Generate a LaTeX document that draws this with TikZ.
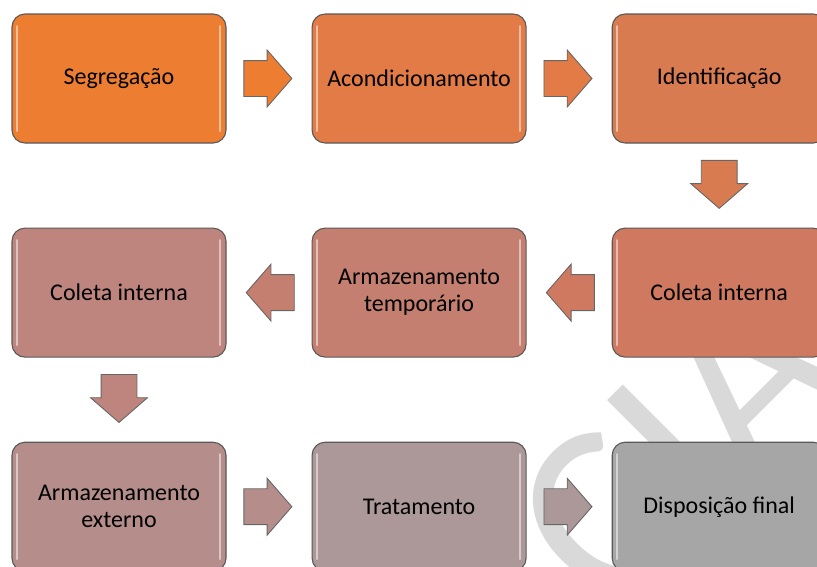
\documentclass[tikz,border=0pt]{standalone}
\usepackage{fontspec}
\setmainfont{Carlito}
\usetikzlibrary{positioning, shapes.arrows}

\definecolor{st1}{RGB}{237,125,49}
\definecolor{st2}{RGB}{226,123,69}
\definecolor{st3}{RGB}{217,123,81}
\definecolor{st4}{RGB}{207,122,96}
\definecolor{st5}{RGB}{197,127,113}
\definecolor{st6}{RGB}{190,133,126}
\definecolor{st7}{RGB}{181,141,138}
\definecolor{st8}{RGB}{172,152,152}
\definecolor{st9}{RGB}{166,166,166}

\begin{document}
\begin{tikzpicture}[x=1pt,y=1pt,node distance=84pt and 85pt,
  stage/.style={rectangle,rounded corners=13pt,draw=black!65,line width=1.1pt,
    minimum width=214pt,minimum height=129pt,align=center,inner sep=0pt,
    font=\fontsize{24}{27}\selectfont,
    path picture={
      \draw[white,opacity=0.5,line width=2pt,line cap=round]
        ([xshift=5pt,yshift=-12pt]path picture bounding box.north west) --
        ([xshift=5pt,yshift=12pt]path picture bounding box.south west)
        ([xshift=-6pt,yshift=-12pt]path picture bounding box.north east) --
        ([xshift=-6pt,yshift=12pt]path picture bounding box.south east);}},
  flow/.style={single arrow,draw=black!60,line width=0.9pt,inner xsep=0pt,
    inner ysep=17.5pt,minimum height=48pt,single arrow head extend=10.5pt,
    single arrow tip angle=98,rotate=#1,xshift=-9pt},
  flow/.default=0,
  watermark/.style={font=\fontsize{250}{250}\selectfont,text=black!15,inner sep=0pt}]

  \useasboundingbox (0,0) rectangle (817,-566);

  % watermark behind the boxes
  \begin{scope}
    \clip (0,0) rectangle (817,-566);
    \node[watermark,anchor=base west,rotate=45] (wm) at (612,-623) {CIA};
  \end{scope}

  \node[stage,fill=st1] (seg) at (119,-78.5) {Segregação};
  \node[stage,fill=st2] (acond) [right=of seg] {Acondicionamento};
  \node[stage,fill=st3] (ident) [right=of acond] {Identificação};
  \node[stage,fill=st4] (colB) [below=of ident] {Coleta interna};
  \node[stage,fill=st5] (armT) [below=of acond] {Armazenamento\\temporário};
  \node[stage,fill=st6] (colA) [below=of seg] {Coleta interna};
  \node[stage,fill=st7] (armE) [below=of colA] {Armazenamento\\externo};
  \node[stage,fill=st8] (trat) [below=of armT] {Tratamento};
  \node[stage,fill=st9] (disp) [below=of colB] {Disposição final};

  \path (seg) -- node[flow,fill=st1] (f1) {} (acond);
  \path (acond) -- node[flow,fill=st2] (f2) {} (ident);
  \path (ident) -- node[flow=-90,fill=st3] (f3) {} (colB);
  \path (colB) -- node[flow=180,fill=st4] (f4) {} (armT);
  \path (armT) -- node[flow=180,fill=st5] (f5) {} (colA);
  \path (colA) -- node[flow=-90,fill=st6] (f6) {} (armE);
  \path (armE) -- node[flow,fill=st7] (f7) {} (trat);
  \path (trat) -- node[flow,fill=st8] (f8) {} (disp);
\end{tikzpicture}
\end{document}
